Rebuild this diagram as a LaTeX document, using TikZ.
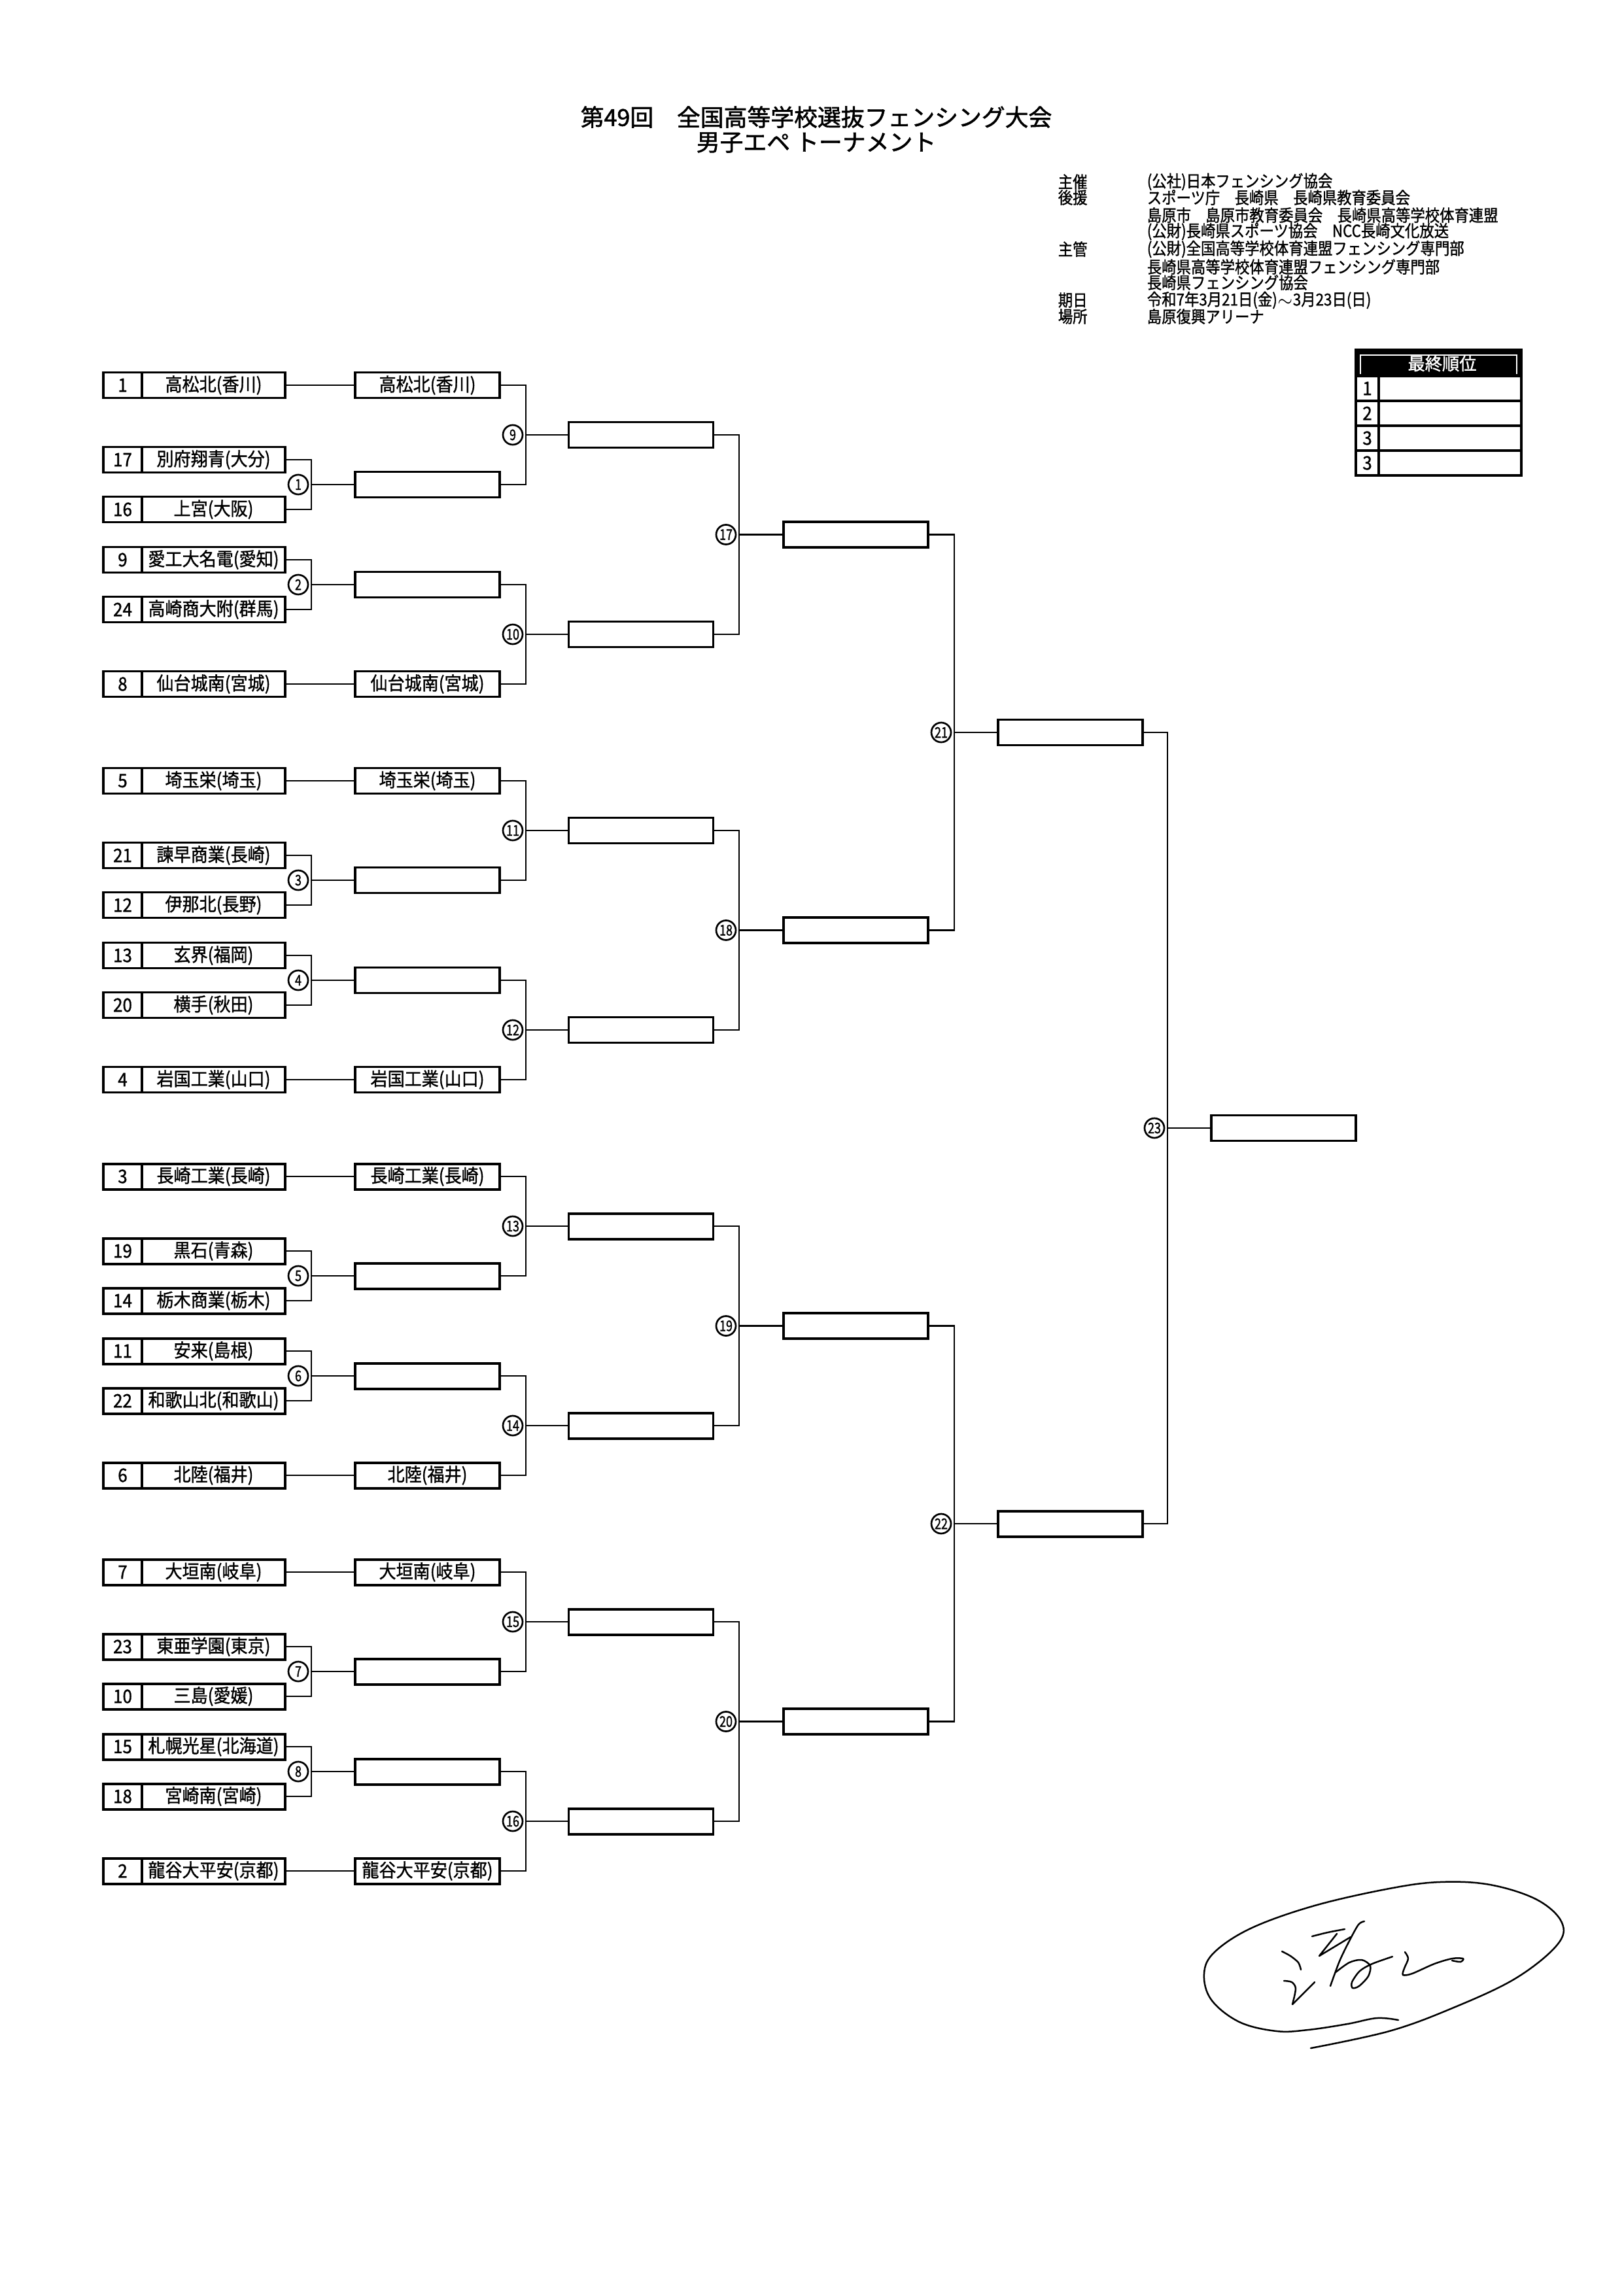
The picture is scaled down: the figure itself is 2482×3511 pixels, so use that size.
\documentclass[tikz,border=0pt]{standalone}
\usepackage{fontspec}
\newfontfamily\jp[FakeStretch=0.92,FakeBold=1.2]{Noto Sans CJK JP}
\newfontfamily\jpt[FakeBold=1.6]{Noto Sans CJK JP}
\newfontfamily\jpc[FakeStretch=0.88,FakeBold=1.2]{Noto Sans CJK JP}
\newfontfamily\jpn[FakeStretch=0.8,FakeBold=1.2]{Noto Sans CJK JP}
\tikzset{
  boxline/.style={draw, line width=0.95pt, inner sep=0pt, minimum height=9.36pt},
  numcell/.style={boxline, minimum width=14.16pt, font=\jp\fontsize{6.8}{7}\selectfont},
  namecell/.style={boxline, minimum width=52.56pt, font=\jp\fontsize{6.8}{7}\selectfont},
  rbox/.style={boxline, minimum width=53.04pt, font=\jp\fontsize{6.8}{7}\selectfont},
  conn/.style={line width=0.6pt},
  circ/.style={circle, draw, line width=0.65pt, minimum size=7.2pt, inner sep=0pt, font=\jpn\fontsize{5.4}{5.4}\selectfont},
  info/.style={anchor=west, inner sep=0pt, font=\jpc\fontsize{6.1}{6.1}\selectfont},
  sig/.style={line width=0.6pt, line cap=round, line join=round},
}
\newcommand\teamrow[4]{%
  \node[numcell] (n#1) at (187.5,#2) {#3};
  \node[namecell] (t#1) at (326.5,#2) {#4};}
\newcommand\bracketset[9]{%
  \node[rbox] (p#1a) at (653.5,#2) {#8};
  \node[rbox] (w#1a) at (653.5,#2+152) {};
  \node[rbox] (w#1b) at (653.5,#2+305) {};
  \node[rbox] (p#1f) at (653.5,#2+457) {#9};
  \draw[conn] (t#1a.east) -- (p#1a.west);
  \draw[conn] (t#1f.east) -- (p#1f.west);
  \coordinate (m#1a) at (476,#2+152);
  \draw[conn] (t#1b.east) -| (m#1a) |- (t#1c.east);
  \draw[conn] (m#1a) -- (w#1a.west);
  \node[circ] (c#3) at (456,#2+152) {#3};
  \coordinate (m#1b) at (476,#2+305);
  \draw[conn] (t#1d.east) -| (m#1b) |- (t#1e.east);
  \draw[conn] (m#1b) -- (w#1b.west);
  \node[circ] (c#4) at (456,#2+305) {#4};
  \node[rbox] (x#1a) at (980,#2+76) {};
  \node[rbox] (x#1b) at (980,#2+381) {};
  \coordinate (m#1c) at (804,#2+76);
  \draw[conn] (p#1a.east) -| (m#1c) |- (w#1a.east);
  \draw[conn] (m#1c) -- (x#1a.west);
  \node[circ] (c#5) at (784,#2+76) {#5};
  \coordinate (m#1d) at (804,#2+381);
  \draw[conn] (w#1b.east) -| (m#1d) |- (p#1f.east);
  \draw[conn] (m#1d) -- (x#1b.west);
  \node[circ] (c#6) at (784,#2+381) {#6};
  \node[rbox] (q#1) at (1308.5,#2+228.5) {};
  \coordinate (m#1e) at (1130,#2+228.5);
  \draw[conn] (x#1a.east) -| (m#1e) |- (x#1b.east);
  \draw[conn] (m#1e) -- (q#1.west);
  \node[circ] (c#7) at (1110,#2+228.5) {#7};
}
\begin{document}
\begin{tikzpicture}[x=0.24pt,y=-0.24pt]
\fill[white] (0,0) rectangle (2482,3511);
\useasboundingbox (0,0) rectangle (2482,3511);

% title
\node[font=\jpt\fontsize{8.6}{9}\selectfont, inner sep=0pt] (title1) at (1248,179) {第49回　全国高等学校選抜フェンシング大会};
\node[font=\jpt\fontsize{8.6}{9}\selectfont, inner sep=0pt] (title2) at (1248,218) {男子エペ トーナメント};

% information block
\node[info] (l1) at (1617,278) {主催};
\node[info] (v1) at (1753,278) {(公社)日本フェンシング協会};
\node[info] (l2) at (1617,302) {後援};
\node[info] (v2) at (1753,302) {スポーツ庁　長崎県　長崎県教育委員会};
\node[info] (v3) at (1753,329) {島原市　島原市教育委員会　長崎県高等学校体育連盟};
\node[info] (v4) at (1753,354) {(公財)長崎県スポーツ協会　NCC長崎文化放送};
\node[info] (l5) at (1617,381) {主管};
\node[info] (v5) at (1753,381) {(公財)全国高等学校体育連盟フェンシング専門部};
\node[info] (v6) at (1753,408) {長崎県高等学校体育連盟フェンシング専門部};
\node[info] (v7) at (1753,432) {長崎県フェンシング協会};
\node[info] (l8) at (1617,459) {期日};
\node[info] (v8) at (1753,459) {令和7年3月21日(金)$\sim$3月23日(日)};
\node[info] (l9) at (1617,484) {場所};
\node[info] (v9) at (1753,484) {島原復興アリーナ};

% final standings table
\node[fill=black, draw, line width=0.8pt, minimum width=60.72pt, minimum height=9.6pt, inner sep=0pt] (hdr) at (2199.5,555) {};
\draw[white, line width=0.35pt] (2080,572) -- (2080,543) -- (2319,543) -- (2319,572);
\node[text=white, font=\jpt\fontsize{6.3}{6.5}\selectfont, inner sep=0pt] (hdrt) at (2205,556) {最終順位};
\foreach \i/\r/\yy in {1/1/594, 2/2/632, 3/3/670, 4/3/708}{
  \node[boxline, minimum width=8.4pt, minimum height=9.12pt, font=\jp\fontsize{6.8}{7}\selectfont] (rn\i) at (2090.5,\yy) {\r};
  \node[boxline, minimum width=52.32pt, minimum height=9.12pt] (rv\i) at (2217,\yy) {};
}
\draw[line width=1.1pt] (2073,535) rectangle (2326,727);

% teams
\teamrow{Aa}{589}{1}{高松北(香川)}
\teamrow{Ab}{703}{17}{別府翔青(大分)}
\teamrow{Ac}{779}{16}{上宮(大阪)}
\teamrow{Ad}{856}{9}{愛工大名電(愛知)}
\teamrow{Ae}{932}{24}{高崎商大附(群馬)}
\teamrow{Af}{1046}{8}{仙台城南(宮城)}

\teamrow{Ba}{1194}{5}{埼玉栄(埼玉)}
\teamrow{Bb}{1308}{21}{諫早商業(長崎)}
\teamrow{Bc}{1384}{12}{伊那北(長野)}
\teamrow{Bd}{1461}{13}{玄界(福岡)}
\teamrow{Be}{1537}{20}{横手(秋田)}
\teamrow{Bf}{1651}{4}{岩国工業(山口)}

\teamrow{Ca}{1799}{3}{長崎工業(長崎)}
\teamrow{Cb}{1913}{19}{黒石(青森)}
\teamrow{Cc}{1989}{14}{栃木商業(栃木)}
\teamrow{Cd}{2066}{11}{安来(島根)}
\teamrow{Ce}{2142}{22}{和歌山北(和歌山)}
\teamrow{Cf}{2256}{6}{北陸(福井)}

\teamrow{Da}{2404}{7}{大垣南(岐阜)}
\teamrow{Db}{2518}{23}{東亜学園(東京)}
\teamrow{Dc}{2594}{10}{三島(愛媛)}
\teamrow{Dd}{2671}{15}{札幌光星(北海道)}
\teamrow{De}{2747}{18}{宮崎南(宮崎)}
\teamrow{Df}{2861}{2}{龍谷大平安(京都)}

% brackets
\bracketset{A}{589}{1}{2}{9}{10}{17}{高松北(香川)}{仙台城南(宮城)}
\bracketset{B}{1194}{3}{4}{11}{12}{18}{埼玉栄(埼玉)}{岩国工業(山口)}
\bracketset{C}{1799}{5}{6}{13}{14}{19}{長崎工業(長崎)}{北陸(福井)}
\bracketset{D}{2404}{7}{8}{15}{16}{20}{大垣南(岐阜)}{龍谷大平安(京都)}

% semifinals
\node[rbox] (sm1) at (1636,1120) {};
\node[rbox] (sm2) at (1636,2330) {};
\coordinate (m21) at (1459,1120);
\draw[conn] (qA.east) -| (m21) |- (qB.east);
\draw[conn] (m21) -- (sm1.west);
\node[circ] (c21) at (1439,1120) {21};
\coordinate (m22) at (1459,2330);
\draw[conn] (qC.east) -| (m22) |- (qD.east);
\draw[conn] (m22) -- (sm2.west);
\node[circ] (c22) at (1439,2330) {22};

% final
\node[rbox] (fin) at (1962,1725) {};
\coordinate (m23) at (1785,1725);
\draw[conn] (sm1.east) -| (m23) |- (sm2.east);
\draw[conn] (m23) -- (fin.west);
\node[circ] (c23) at (1765,1725) {23};

% signature
\draw[sig] plot[smooth, tension=0.6] coordinates {(2138,3089) (2105,3086) (2060,3095) (2000,3104) (1952,3106) (1895,3092) (1852,3058) (1841,3018) (1857,2985) (1914,2948) (2010,2914) (2124,2888) (2201,2878) (2278,2882) (2350,2905) (2388,2940) (2380,2975) (2316,3026) (2220,3071) (2124,3106) (2004,3132)};
\draw[sig] plot[smooth] coordinates {(1960,2984) (1973,2991) (1985,3001) (1989,3012)};
\draw[sig] plot[smooth] coordinates {(1963,3029) (1975,3031) (1981,3041) (1976,3065)};
\draw[sig] (1976,3065) -- (2010,3031);
\draw[sig] plot[smooth] coordinates {(2006,2961) (2030,2955) (2056,2950)};
\draw[sig] (2044,2957) -- (2017,2991) -- (2065,2962);
\draw[sig] plot[smooth] coordinates {(2086,2938) (2077,2943) (2063,2968) (2048,2999) (2034,3037)};
\draw[sig] plot[smooth] coordinates {(2042,3016) (2063,3001) (2082,2997) (2095,3006) (2092,3022) (2078,3037) (2068,3040) (2067,3031) (2079,3014) (2098,3003) (2129,2992)};
\draw[sig] plot[smooth] coordinates {(2148,2985) (2153,2995) (2147,3010) (2145,3020) (2159,3018) (2193,3003) (2220,2995) (2237,2995) (2233,3000) (2220,2998)};
\end{tikzpicture}
\end{document}
